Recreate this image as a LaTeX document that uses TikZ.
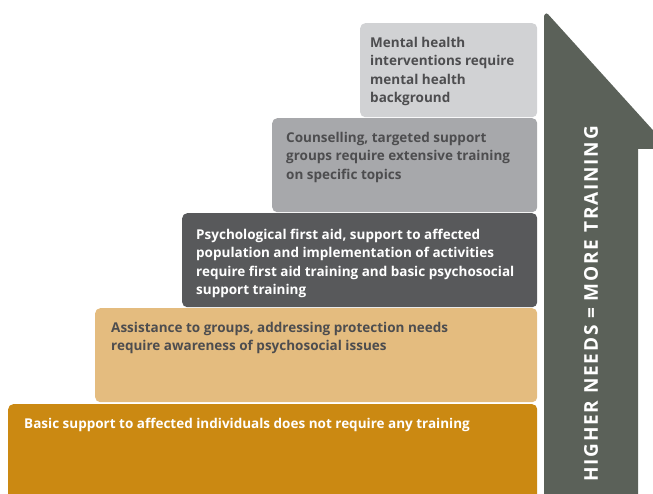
\documentclass[tikz,border=0pt]{standalone}
\usepackage{fontspec}
\setmainfont{Open Sans}
\usetikzlibrary{positioning}

\definecolor{stepA}{HTML}{D1D2D4}
\definecolor{stepB}{HTML}{A7A8AB}
\definecolor{stepC}{HTML}{58595B}
\definecolor{stepD}{HTML}{E4BC7F}
\definecolor{stepE}{HTML}{CB8912}
\definecolor{arrowgray}{HTML}{5B6159}
\definecolor{textdark}{HTML}{4D4D4F}

\tikzset{
    stair/.style={
        rectangle, anchor=north west, rounded corners=5pt,
        minimum height=94pt, draw=none,
    },
    stairtext/.style={
        anchor=north west, align=left, inner sep=0pt,
        font=\fontsize{13.5}{18.4}\selectfont\bfseries,
        xshift=14pt, yshift=-14pt,
    },
}

\begin{document}
\begin{tikzpicture}[x=1pt, y=1pt]
        \clip (0,0) rectangle (653,494);

        % the five steps, lowest first
        \node (lvlE) at(8,90) [stair, fill=stepE,
            minimum width=529pt, minimum height=100pt] {};
        \node (lvlD) at(95,186) [stair, fill=stepD, minimum width=442pt] {};
        \node (lvlC) at(182,281) [stair, fill=stepC, minimum width=355pt] {};
        \node (lvlB) at(272,376) [stair, fill=stepB, minimum width=265pt] {};
        \node (lvlA) at(360,471) [stair, fill=stepA, minimum width=177pt] {};

        \node at(lvlE.north west) [stairtext, text=white, xshift=2pt]
            {Basic support to affected individuals does not require any training};
        \node at(lvlD.north west) [stairtext, text=textdark, xshift=2pt]
            {Assistance to groups, addressing protection needs\\
             require awareness of psychosocial issues};
        \node at(lvlC.north west) [stairtext, text=white, yshift=-2pt]
            {Psychological first aid, support to affected\\
             population and implementation of activities\\
             require first aid training and basic psychosocial\\
             support training};
        \node at(lvlB.north west) [stairtext, text=textdark]
            {Counselling, targeted support\\
             groups require extensive training\\
             on specific topics};
        \node at(lvlA.north west) [stairtext, text=textdark, xshift=-4pt]
            {Mental health\\
             interventions require\\
             mental health\\
             background};

        % big arrow on the right
        \fill[arrowgray] (544,-5) -- (544,478)
            [rounded corners=3pt] -- (546,482)
            [sharp corners] -- (670,345) -- (638,345) -- (638,-5) -- cycle;
        \node (needs) at(591,190) [
            rotate=90, inner sep=0pt, text=white,
            font=\fontsize{19}{21}\selectfont\bfseries\addfontfeature{LetterSpace=9.5},
        ] {HIGHER NEEDS = MORE TRAINING};
    \end{tikzpicture}
\end{document}
